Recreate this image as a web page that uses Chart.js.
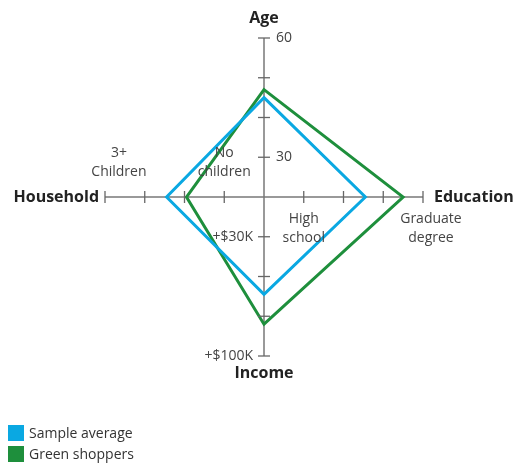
<!DOCTYPE html>
<html>
<head>
<meta charset="utf-8">
<script src="https://cdn.jsdelivr.net/npm/chart.js@4"></script>
<style>
  body { margin: 0; background: #fff; font-family: 'Open Sans', sans-serif; }
  #wrap { position: relative; width: 517px; height: 463px; }
  #legend { position: absolute; left: 8px; top: 422px; font-size: 14px; color: #333; }
  #legend div { display: flex; align-items: center; height: 21px; }
  #legend span { display: inline-block; width: 16px; height: 16px; margin-right: 5px; }
</style>
</head>
<body>
<div id="wrap">
  <canvas id="radar" width="517" height="463"></canvas>
  <div id="legend"></div>
</div>
<script>
// axes go clockwise from the top; values are in tick steps (4 ticks per axis)
const axes = ['Age', 'Education', 'Income', 'Household'];
const sampleAverage = [2.5, 2.55, 2.45, 2.45];
const greenShoppers = [2.7, 3.5, 3.2, 1.95];

// scale labels for each axis: [value, text]
const ageTicks = [[1, '30'], [4, '60']];
const incomeTicks = [[1, '+$30K'], [4, '+$100K']];
const educationLabels = [[1, 'High\nschool'], [4.2, 'Graduate\ndegree']];
const householdLabels = [[1, 'No\nchildren'], [3.65, '3+\nChildren']];

const BLUE = '#0aa8e2';
const GREEN = '#1e8f3c';

// draws axis titles, tick marks and tick labels
const axisDecor = {
  id: 'axisDecor',
  afterDatasetsDraw(chart) {
    const ctx = chart.ctx;
    const r = chart.scales.r;
    ctx.save();
    ctx.strokeStyle = '#666';
    ctx.lineWidth = 1.3;
    // tick marks across every axis
    for (let i = 0; i < axes.length; i++) {
      for (let v = 1; v <= 4; v++) {
        const p = r.getPointPositionForValue(i, v);
        ctx.beginPath();
        if (i % 2 === 0) { ctx.moveTo(p.x - 6, p.y); ctx.lineTo(p.x + 6, p.y); }
        else { ctx.moveTo(p.x, p.y - 6); ctx.lineTo(p.x, p.y + 6); }
        ctx.stroke();
      }
    }

    // axis titles
    ctx.fillStyle = '#222';
    ctx.font = 'bold 16px "Open Sans"';
    ctx.textBaseline = 'middle';
    let p = r.getPointPositionForValue(0, 4);
    ctx.textAlign = 'center';
    ctx.fillText(axes[0], p.x, p.y - 20);
    p = r.getPointPositionForValue(1, 4);
    ctx.textAlign = 'left';
    ctx.fillText(axes[1], p.x + 11, p.y);
    p = r.getPointPositionForValue(2, 4);
    ctx.textAlign = 'center';
    ctx.fillText(axes[2], p.x, p.y + 17);
    p = r.getPointPositionForValue(3, 4);
    ctx.textAlign = 'right';
    ctx.fillText(axes[3], p.x - 6, p.y);

    ctx.fillStyle = '#444';
    ctx.font = '14px "Open Sans"';
    ageTicks.forEach(([v, t]) => {
      const q = r.getPointPositionForValue(0, v);
      ctx.textAlign = 'left';
      ctx.fillText(t, q.x + 12, q.y);
    });
    incomeTicks.forEach(([v, t]) => {
      const q = r.getPointPositionForValue(2, v);
      ctx.textAlign = 'right';
      ctx.fillText(t, q.x - 11, q.y);
    });
    educationLabels.forEach(([v, t]) => {
      const q = r.getPointPositionForValue(1, v);
      ctx.textAlign = 'center';
      t.split('\n').forEach((line, k) => ctx.fillText(line, q.x, q.y + 22 + k * 19));
    });
    householdLabels.forEach(([v, t]) => {
      const q = r.getPointPositionForValue(3, v);
      ctx.textAlign = 'center';
      t.split('\n').forEach((line, k) => ctx.fillText(line, q.x, q.y - 44 + k * 19));
    });
    ctx.restore();
  }
};

new Chart(document.getElementById('radar'), {
  type: 'radar',
  data: {
    labels: axes,
    datasets: [
      { label: 'Sample average', data: sampleAverage, borderColor: BLUE, borderWidth: 3, fill: false, pointRadius: 0, lineTension: 0 },
      { label: 'Green shoppers', data: greenShoppers, borderColor: GREEN, borderWidth: 3, fill: false, pointRadius: 0, lineTension: 0 }
    ]
  },
  options: {
    responsive: false,
    animation: false,
    layout: { padding: { left: 105, right: 94, top: 38, bottom: 107 } },
    plugins: { legend: { display: false }, tooltip: { enabled: false } },
    scales: {
      r: {
        min: 0,
        max: 4,
        ticks: { display: false, stepSize: 1 },
        grid: { display: false },
        angleLines: { color: '#777', lineWidth: 1.5 },
        pointLabels: { display: false }
      }
    }
  },
  plugins: [axisDecor]
});

// legend as plain html
const legend = document.getElementById('legend');
[['Sample average', BLUE], ['Green shoppers', GREEN]].forEach(([name, col]) => {
  const row = document.createElement('div');
  row.innerHTML = `<span style="background:${col}"></span>${name}`;
  legend.appendChild(row);
});
</script>
</body>
</html>
